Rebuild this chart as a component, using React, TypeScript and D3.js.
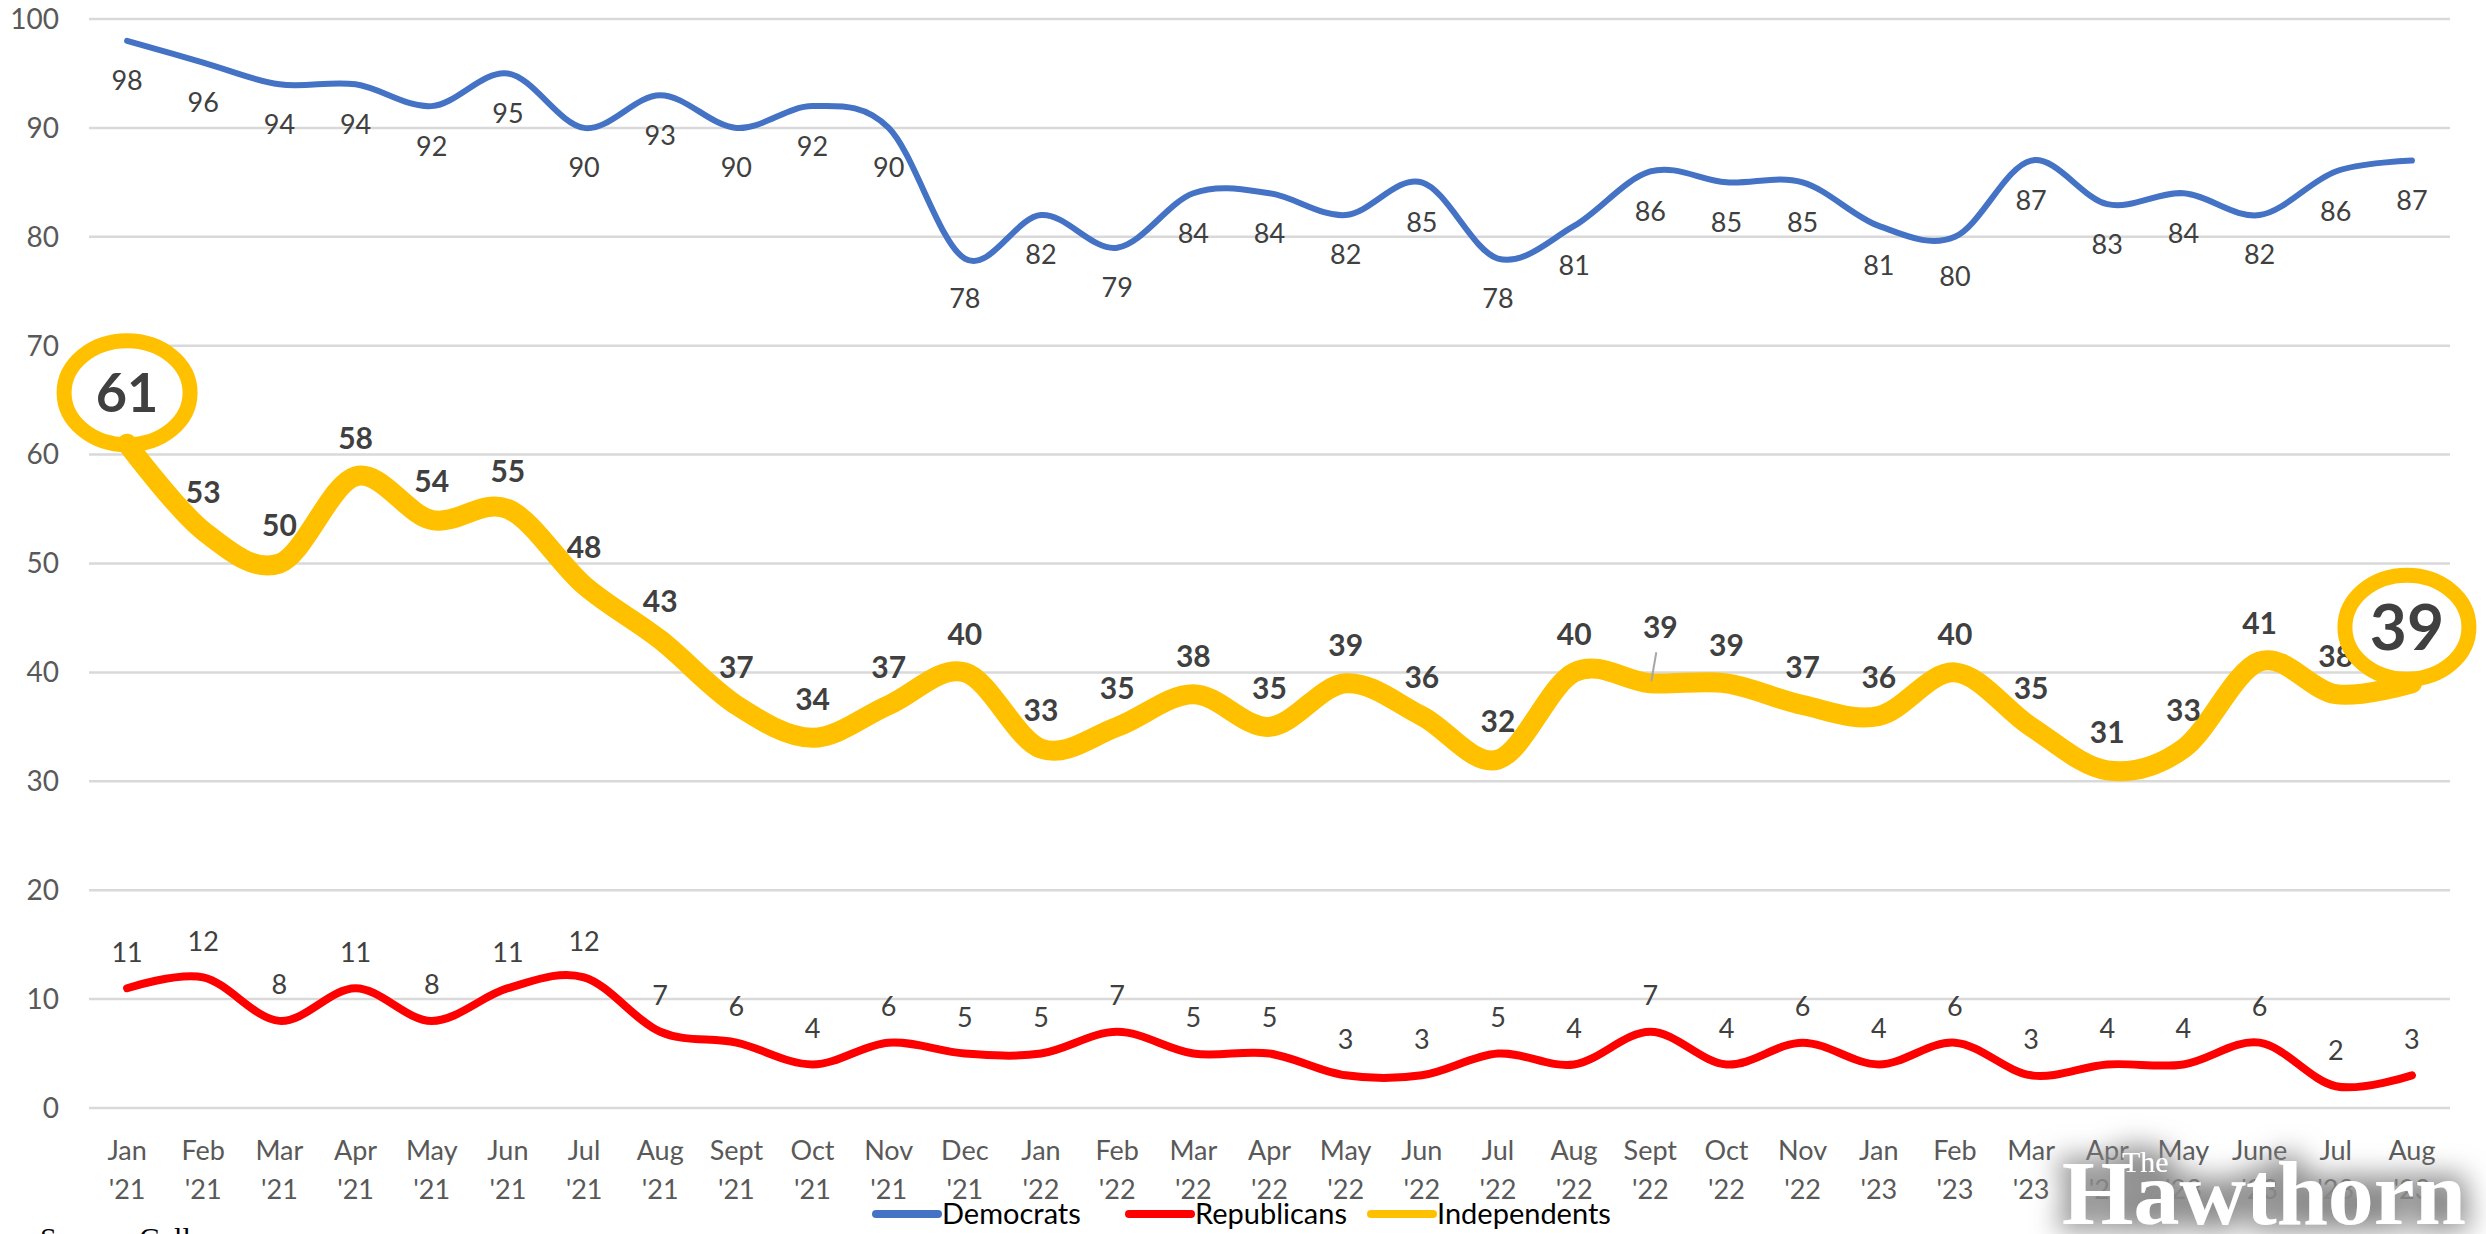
import { useEffect } from 'react';
import * as d3 from 'd3';

const months = [
  'Jan', 'Feb', 'Mar', 'Apr', 'May', 'Jun', 'Jul', 'Aug', 'Sept', 'Oct', 'Nov', 'Dec',
  'Jan', 'Feb', 'Mar', 'Apr', 'May', 'Jun', 'Jul', 'Aug', 'Sept', 'Oct', 'Nov',
  'Jan', 'Feb', 'Mar', 'Apr', 'May', 'June', 'Jul', 'Aug',
];
const years = [
  "'21", "'21", "'21", "'21", "'21", "'21", "'21", "'21", "'21", "'21", "'21", "'21",
  "'22", "'22", "'22", "'22", "'22", "'22", "'22", "'22", "'22", "'22", "'22",
  "'23", "'23", "'23", "'23", "'23", "'23", "'23", "'23",
];
const democrats = [98, 96, 94, 94, 92, 95, 90, 93, 90, 92, 90, 78, 82, 79, 84, 84, 82, 85, 78, 81, 86, 85, 85, 81, 80, 87, 83, 84, 82, 86, 87];
const republicans = [11, 12, 8, 11, 8, 11, 12, 7, 6, 4, 6, 5, 5, 7, 5, 5, 3, 3, 5, 4, 7, 4, 6, 4, 6, 3, 4, 4, 6, 2, 3];
const independents = [61, 53, 50, 58, 54, 55, 48, 43, 37, 34, 37, 40, 33, 35, 38, 35, 39, 36, 32, 40, 39, 39, 37, 36, 40, 35, 31, 33, 41, 38, 39];
const yTicks = [0, 10, 20, 30, 40, 50, 60, 70, 80, 90, 100];

const W = 2486;
const H = 1234;
const left = 89;
const right = 2450;
const top = 19;
const bottom = 1108;

const FONT = 'Lato, "Noto Sans", sans-serif';

export default function App() {
  useEffect(() => {
    document.body.style.margin = '0';
  }, []);

  const keys = months.map((_, i) => String(i));
  const x = d3.scalePoint<string>().domain(keys).range([left, right]).padding(0.5);
  const y = d3.scaleLinear().domain([0, 100]).range([bottom, top]);

  const line = d3
    .line<number>()
    .x((_, i) => x(String(i)) as number)
    .y((d) => y(d))
    .curve(d3.curveCatmullRom.alpha(0));

  const last = independents.length - 1;

  return (
    <svg width={W} height={H} style={{ display: 'block', background: '#fff' }} fontFamily={FONT}>
      <defs>
        <filter id="wm" x="-20%" y="-40%" width="140%" height="180%">
          <feMorphology in="SourceAlpha" operator="dilate" radius="6" result="d" />
          <feGaussianBlur in="d" stdDeviation="14" result="b" />
          <feFlood floodColor="#8a8a8a" />
          <feComposite in2="b" operator="in" result="s" />
          <feMerge>
            <feMergeNode in="s" />
            <feMergeNode in="SourceGraphic" />
          </feMerge>
        </filter>
      </defs>

      {/* grid + y axis */}
      {yTicks.map((t) => (
        <g key={t}>
          <line x1={left} x2={right} y1={y(t)} y2={y(t)} stroke="#d9d9d9" strokeWidth={2.5} />
          <text x={left - 30} y={y(t)} dy="0.35em" textAnchor="end" fontSize={28} fill="#595959">
            {t}
          </text>
        </g>
      ))}

      {/* x axis labels */}
      {months.map((m, i) => (
        <text key={i} x={x(String(i))} y={1160} textAnchor="middle" fontSize={27} fill="#595959">
          <tspan x={x(String(i))}>{m}</tspan>
          <tspan x={x(String(i))} dy={39}>{years[i]}</tspan>
        </text>
      ))}

      {/* lines */}
      <path d={line(democrats) ?? ''} fill="none" stroke="#4472C4" strokeWidth={6} strokeLinecap="round" />
      <path d={line(republicans) ?? ''} fill="none" stroke="#FF0000" strokeWidth={8} strokeLinecap="round" />
      <path d={line(independents) ?? ''} fill="none" stroke="#FFC000" strokeWidth={20} strokeLinecap="round" />

      {/* democrats labels (below) */}
      {democrats.map((v, i) => (
        <text key={i} x={x(String(i))} y={y(v) + 40} dy="0.35em" textAnchor="middle" fontSize={27} fill="#404040">
          {v}
        </text>
      ))}

      {/* republicans labels (above) */}
      {republicans.map((v, i) => (
        <text key={i} x={x(String(i))} y={y(v) - 36} dy="0.35em" textAnchor="middle" fontSize={27} fill="#404040">
          {v}
        </text>
      ))}

      {/* independents labels (above, bold) */}
      {independents.map((v, i) => {
        if (i === 0 || i === last) return null;
        const off = i === 20 ? 56 : 38;
        return (
          <g key={i}>
            {i === 20 && (
              <line
                x1={(x(String(i)) as number) + 6}
                y1={y(v) - 31}
                x2={(x(String(i)) as number) + 1}
                y2={y(v) - 2}
                stroke="#a6a6a6"
                strokeWidth={2}
              />
            )}
            <text x={(x(String(i)) as number) + (i === 20 ? 10 : 0)} y={y(v) - off} dy="0.35em" textAnchor="middle" fontSize={30} fontWeight="bold" fill="#404040">
              {v}
            </text>
          </g>
        );
      })}

      {/* circled highlights */}
      <ellipse cx={x('0')} cy={y(independents[0]) - 51} rx={63} ry={52} fill="none" stroke="#FFC000" strokeWidth={15} />
      <text x={x('0')} y={y(independents[0]) - 51} dy="0.36em" textAnchor="middle" fontSize={54} fontWeight="bold" fill="#404040">
        {independents[0]}
      </text>
      <ellipse cx={(x(String(last)) as number) - 5} cy={y(independents[last]) - 56} rx={62} ry={52} fill="none" stroke="#FFC000" strokeWidth={15} />
      <text x={(x(String(last)) as number) - 5} y={y(independents[last]) - 56} dy="0.36em" textAnchor="middle" fontSize={64} fontWeight="bold" fill="#404040">
        {independents[last]}
      </text>

      {/* legend */}
      {[
        { name: 'Democrats', color: '#4472C4', x0: 872 },
        { name: 'Republicans', color: '#FF0000', x0: 1125 },
        { name: 'Independents', color: '#FFC000', x0: 1367 },
      ].map((d) => (
        <g key={d.name}>
          <line x1={d.x0 + 4} x2={d.x0 + 66} y1={1214} y2={1214} stroke={d.color} strokeWidth={8} strokeLinecap="round" />
          <text x={d.x0 + 70} y={1214} dy="0.35em" fontSize={29} fill="#000">
            {d.name}
          </text>
        </g>
      ))}

      {/* source */}
      <text x={40} y={1248} fontSize={30} fontFamily='"Liberation Serif", serif' fill="#000">
        Source: Gallup
      </text>

      {/* watermark */}
      <g filter="url(#wm)" fill="#fff" fontFamily='"Liberation Serif", serif'>
        <text x={2122} y={1172} fontSize={30}>The</text>
        <text x={2062} y={1224} fontSize={92} fontWeight="bold">Hawthorn</text>
      </g>
    </svg>
  );
}
